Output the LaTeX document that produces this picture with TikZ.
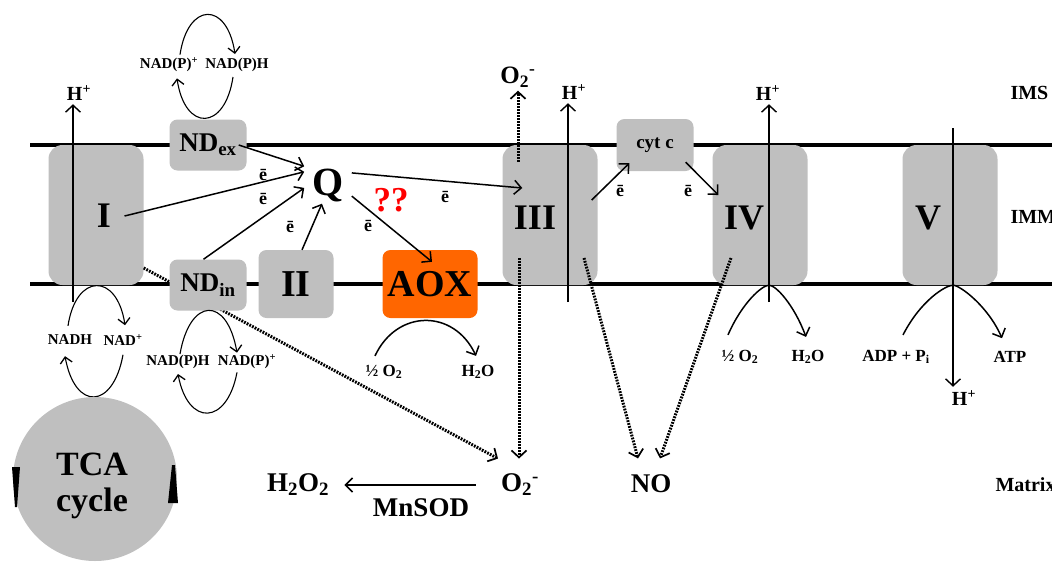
\documentclass[tikz,border=0pt]{standalone}
\usepackage{fontspec}
\setmainfont{Liberation Serif}
\usetikzlibrary{arrows.meta}
\definecolor{cpxgray}{RGB}{191,191,191}
\definecolor{aoxorange}{RGB}{255,102,0}
\newcommand{\bsz}[1]{\fontsize{#1}{#1}\selectfont\bfseries}
\newcommand{\hplus}{H\textsuperscript{+}}
\newcommand{\superox}{O\textsubscript{2}\textsuperscript{-}}
\tikzset{
  cplx/.style={fill=cpxgray, rounded corners=14pt, minimum width=95pt, minimum height=140pt, inner sep=0pt},
  enz/.style={fill=cpxgray, rounded corners=8pt, minimum width=77pt, minimum height=51pt, inner sep=0pt},
  roman/.style={font=\bsz{36}},
  flow/.style={line width=1.5pt, -{Straight Barb[length=7pt,width=14pt]}},
  pump/.style={line width=1.1pt, -{Straight Barb[length=7pt,width=15pt,line width=1.4pt]}},
  cyc/.style={line width=1.1pt, -{Straight Barb[length=6pt,width=12pt,line width=1.3pt]}},
  leak/.style={line width=3pt, dash pattern=on 1.8pt off 1.2pt},
  leakto/.style={leak, -{Straight Barb[length=7pt,width=15pt,line width=1.7pt]}},
  el/.style={font=\bsz{18}},
  cofac/.style={font=\bsz{15}, inner sep=1pt},
  prod/.style={font=\bsz{17}, inner sep=1pt},
  chem/.style={font=\bsz{27}},
  zone/.style={font=\bsz{20}, anchor=west}
}
\begin{document}
\begin{tikzpicture}[x=1pt, y=-1pt]
    \clip (0,0) rectangle (1052,566);
    % inner membrane
    \draw[line width=4pt] (30,145) -- (1052,145);
    \draw[line width=4pt] (30,284) -- (1052,284);
    % complexes I, III, IV, V
    \node[cplx] (cI) at (96,215) {};
    \node[cplx] (cIII) at (550,215) {};
    \node[cplx] (cIV) at (760,215) {};
    \node[cplx] (cV) at (950,215) {};
    % matrix products
    \node[chem] (o2bot) at (520,485) {\superox};
    \node[chem] (no) at (651,484) {NO};
    \node[chem] (h2o2) at (298,485) {H\textsubscript{2}O\textsubscript{2}};
    \node[chem] (mnsod) at (421,508) {MnSOD};
    % leak from I (runs behind ND_in)
    \draw[leakto] ([shift={(0,53)}]cI.east) -- ([shift={(-22,-12)}]o2bot.north);
    % smaller enzymes
    \node[enz, font=\bsz{27}] (ndex) at (208,145) {ND\textsubscript{ex}};
    \node[enz, font=\bsz{27}] (ndin) at (208,285) {ND\textsubscript{in}};
    \node[enz, minimum width=75pt, minimum height=68pt, font=\bsz{38}] (cII) at (296,284) {II};
    \node[enz, fill=aoxorange, minimum width=95pt, minimum height=68pt, font=\bsz{38}] (aox) at (430,284) {AOX};
    \node[enz, minimum height=52pt, font=\bsz{19}] (cytc) at (655,145) {cyt c};
    \node[roman] (cIlab) at (104,216) {I};
    \node[roman] (cIIIlab) at (535,218) {III};
    \node[roman] (cIVlab) at (744,218) {IV};
    \node[roman] (cVlab) at (928,218) {V};
    % ubiquinone pool
    \node[font=\bsz{40}, inner xsep=8pt, inner ysep=2pt] (q) at (328,185) {Q};
    \node[font=\bsz{35}, text=red] (qq) at (391,200) {??};
    \node[el] (e1) at (263,175) {\=e};
    \node[el] (e2) at (263,199) {\=e};
    \node[el] (e3) at (290,227) {\=e};
    \node[el] (e4) at (368,226) {\=e};
    \node[el] (e5) at (445,197) {\=e};
    \node[el] (e6) at (620,191) {\=e};
    \node[el] (e7) at (688,191) {\=e};
    % electron flow
    \draw[flow] ([xshift=-8pt]ndex.east) -- (q.north west);
    \draw[flow] ([xshift=10pt]cIlab.east) -- (q.151);
    \draw[flow] (ndin.100) -- (q.187);
    \draw[flow] (cII.80) -- (q.252);
    \draw[flow] (q.-25) -- ([shift={(2,12)}]aox.north);
    \draw[flow] (q.27) -- ([shift={(20,-27)}]cIII.west);
    \draw[flow] ([shift={(-6,-15)}]cIII.east) -- ([shift={(13,-8)}]cytc.south west);
    \draw[flow] ([shift={(-8,-9)}]cytc.south east) -- ([shift={(6,-20)}]cIV.west);
    % proton pumping
    \node[font=\bsz{20}] (hI) at (79,93) {\hplus};
    \node[font=\bsz{20}] (hIII) at (574,92) {\hplus};
    \node[font=\bsz{20}] (hIV) at (768,93) {\hplus};
    \node[font=\bsz{20}] (hV) at (964,398) {\hplus};
    \coordinate (hIfoot) at (73,302);
    \coordinate (hIIIfoot) at (568,302);
    \coordinate (hIVfoot) at (769,302);
    \coordinate (hVtop) at (953,128);
    \draw[pump] (hIfoot) -- (hIfoot |- hI.south);
    \draw[pump] (hIIIfoot) -- (hIIIfoot |- hIII.south);
    \draw[pump] (hIVfoot) -- (hIVfoot |- hIV.south);
    \draw[pump] (hVtop) -- (hVtop |- hV.north);
    % compartments
    \node[zone] (ims) at (1007,93) {IMS};
    \node[zone] (imm) at (1007,217) {IMM};
    \node[zone] (matrix) at (992,485) {Matrix};
    % superoxide and NO
    \node[chem, font=\bsz{25}] (o2top) at (518,77) {\superox};
    \coordinate (iiiup) at (518,162);
    \coordinate (iiidown) at (519,258);
    \coordinate (iiino) at (584,258);
    \coordinate (ivno) at (731,258);
    \draw[leakto] (iiiup) -- (iiiup |- o2top.south);
    \draw[leakto] (iiidown) -- ([shift={(-1,-12)}]o2bot.north);
    \draw[leakto] (iiino) -- ([shift={(-13,-13)}]no.north);
    \draw[leakto] (ivno) -- ([shift={(9,-13)}]no.north);
    \draw[flow] ([xshift=-22pt]o2bot.west) -- ([xshift=12pt]h2o2.east);
    % terminal oxidases and ATP synthase
    \node[prod] (aoxin) at (384,372) {½ O\textsubscript{2}};
    \node[prod] (aoxout) at (478,372) {H\textsubscript{2}O};
    \draw[flow] ([shift={(-9,-8)}]aoxin.north) .. controls +(22,-47) and +(-22,-47) .. ([shift={(-2,-8)}]aoxout.north);
    \node[prod] (ivin) at (740,357) {½ O\textsubscript{2}};
    \node[prod] (ivout) at (808,357) {H\textsubscript{2}O};
    \draw[flow] ([shift={(-12,-14)}]ivin.north) .. controls +(14,-32) and +(-7,0) .. (hIVfoot |- cIV.south)
        .. controls +(7,0) and +(-12,-32) .. ([shift={(-2,-12)}]ivout.north);
    \node[prod] (vin) at (896,357) {ADP + P\textsubscript{i}};
    \node[prod] (vout) at (1010,357) {ATP};
    \draw[flow] ([shift={(7,-14)}]vin.north) .. controls +(18,-35) and +(-7,0) .. (hVtop |- cV.south)
        .. controls +(7,0) and +(-14,-32) .. ([shift={(-8,-12)}]vout.north);
    % NAD(P)H cycles
    \node[cofac] (nadh) at (70,340) {NADH};
    \node[cofac] (nadox) at (123,340) {NAD\textsuperscript{+}};
    \draw[cyc] ([shift={(-2,-8)}]nadh.north) .. controls +(8,-53) and +(-8,-53) .. ([shift={(2,-8)}]nadox.north);
    \draw[cyc] ([shift={(0,8)}]nadox.south) .. controls +(-10,55) and +(10,55) .. ([shift={(-5,10)}]nadh.south);
    \node[cofac] (nadpa) at (169,65) {NAD(P)\textsuperscript{+}};
    \node[cofac] (nadpha) at (237,65) {NAD(P)H};
    \draw[cyc] ([shift={(11,-2)}]nadpa.north) .. controls +(8,-53) and +(-8,-53) .. ([shift={(-2,-3)}]nadpha.north);
    \draw[cyc] ([shift={(-4,4)}]nadpha.south) .. controls +(-8,54) and +(8,54) .. ([shift={(8,5)}]nadpa.south);
    \node[cofac] (nadphb) at (178,362) {NAD(P)H};
    \node[cofac] (nadpb) at (247,362) {NAD(P)\textsuperscript{+}};
    \draw[cyc] ([shift={(2,0)}]nadphb.north) .. controls +(10,-57) and +(-10,-57) .. ([shift={(-10,-1)}]nadpb.north);
    \draw[cyc] ([shift={(-10,2)}]nadpb.south) .. controls +(-10,53) and +(10,53) .. ([shift={(0,4)}]nadphb.south);
    % TCA cycle
    \node[circle, fill=cpxgray, minimum size=164pt, inner sep=0pt] (tca) at (95,479) {};
    \node[font=\fontsize{34}{36}\selectfont\bfseries, align=center] (tcalab) at (92,486) {TCA\\cycle};
    \fill (12,467) -- (20,467) -- (17,507) -- (15,507) -- cycle;
    \fill (172,465) -- (175,465) -- (178,503) -- (168,503) -- cycle;
\end{tikzpicture}
\end{document}
